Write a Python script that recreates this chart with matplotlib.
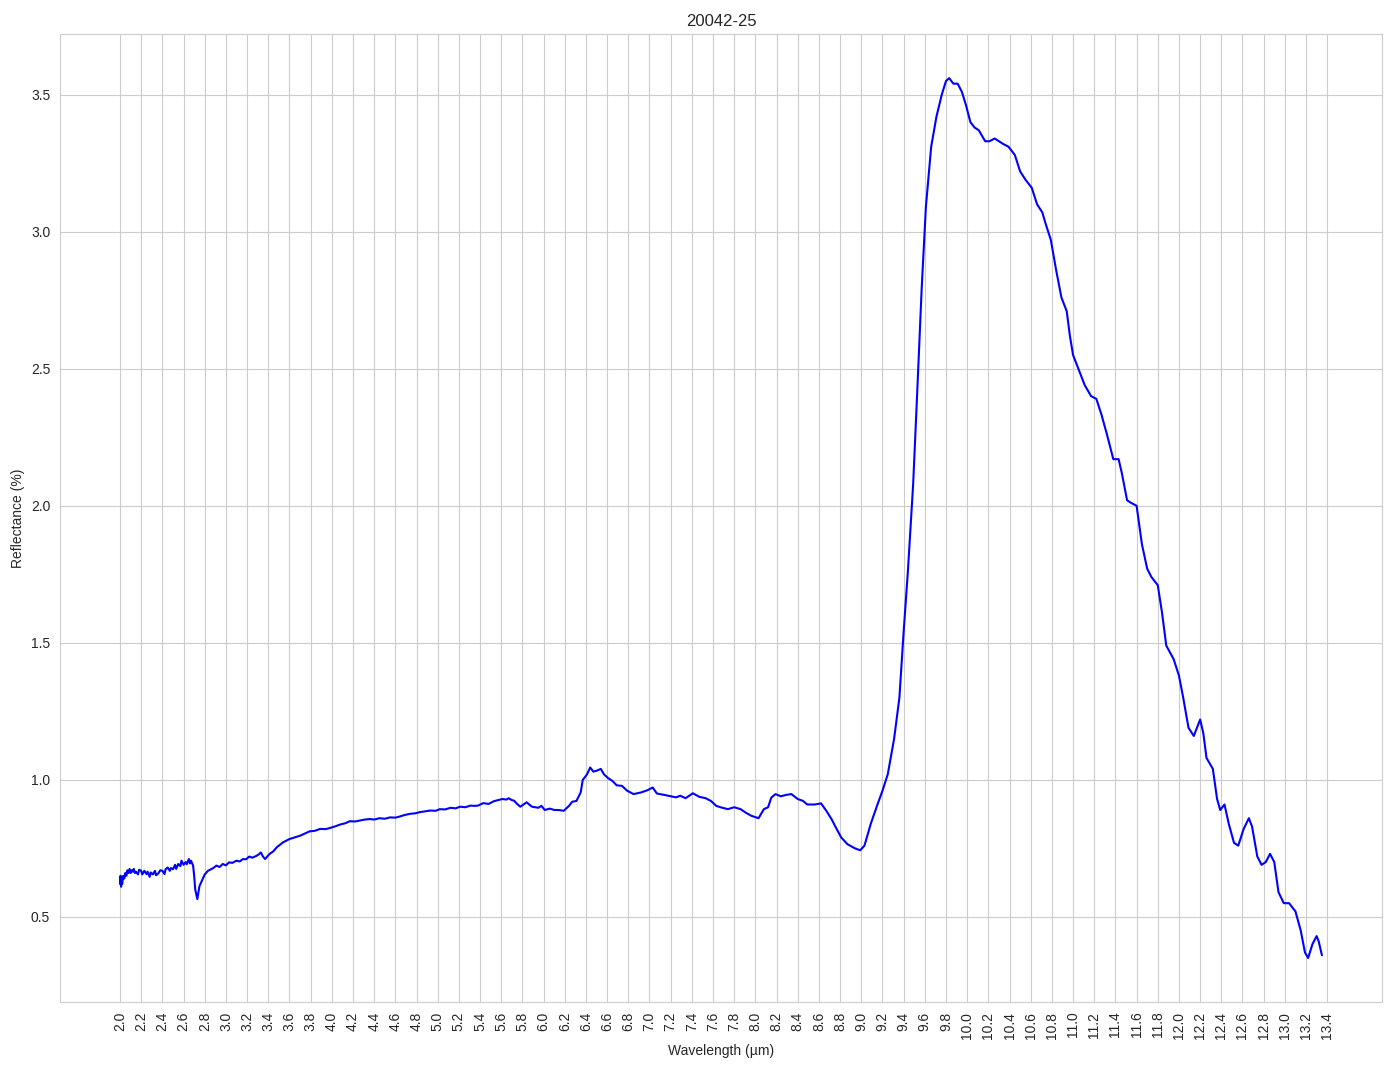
import numpy as np
import matplotlib
matplotlib.use("Agg")
import matplotlib.pyplot as plt
import seaborn as sns

# wavelength (um) and reflectance (%)
wavelength = [
    2.00, 2.005, 2.01, 2.015, 2.02, 2.03, 2.04, 2.05, 2.06, 2.07, 2.08, 2.09, 2.10,
    2.11, 2.12, 2.13, 2.14, 2.15, 2.17, 2.18, 2.20, 2.21, 2.23, 2.25, 2.26, 2.28,
    2.29, 2.31, 2.33, 2.34, 2.36, 2.38, 2.40, 2.42, 2.43, 2.45, 2.47, 2.48, 2.50,
    2.52, 2.53, 2.55, 2.57, 2.58, 2.60, 2.62, 2.63, 2.65, 2.66, 2.67, 2.69, 2.70,
    2.71, 2.73, 2.75, 2.78, 2.80, 2.83, 2.85, 2.88, 2.91, 2.94, 2.97, 3.00, 3.03,
    3.06, 3.10, 3.13, 3.16, 3.19, 3.22, 3.25, 3.29, 3.31, 3.33, 3.35, 3.37, 3.41,
    3.45, 3.48, 3.54, 3.60, 3.65, 3.70, 3.75, 3.79, 3.84, 3.89, 3.94, 3.98, 4.03,
    4.08, 4.13, 4.17, 4.22, 4.26, 4.31, 4.36, 4.40, 4.45, 4.50, 4.55, 4.60, 4.64,
    4.69, 4.74, 4.79, 4.83, 4.88, 4.93, 4.98, 5.02, 5.07, 5.12, 5.17, 5.21, 5.26,
    5.31, 5.35, 5.38, 5.43, 5.48, 5.53, 5.57, 5.61, 5.65, 5.67, 5.70, 5.72, 5.75,
    5.78, 5.81, 5.84, 5.87, 5.89, 5.92, 5.95, 5.98, 6.01, 6.06, 6.10, 6.14, 6.19,
    6.24, 6.27, 6.31, 6.35, 6.37, 6.41, 6.44, 6.47, 6.50, 6.54, 6.57, 6.61, 6.65,
    6.69, 6.74, 6.79, 6.85, 6.92, 6.98, 7.03, 7.07, 7.14, 7.20, 7.25, 7.29, 7.34,
    7.41, 7.47, 7.53, 7.58, 7.63, 7.67, 7.74, 7.80, 7.86, 7.91, 7.96, 8.03, 8.08,
    8.12, 8.15, 8.19, 8.24, 8.29, 8.34, 8.40, 8.45, 8.49, 8.56, 8.62, 8.67, 8.72,
    8.76, 8.81, 8.87, 8.94, 8.99, 9.03, 9.09, 9.15, 9.20, 9.25, 9.31, 9.36, 9.40,
    9.44, 9.49, 9.53, 9.57, 9.61, 9.66, 9.71, 9.76, 9.80, 9.83, 9.87, 9.91, 9.95,
    9.99, 10.03, 10.07, 10.11, 10.17, 10.21, 10.26, 10.34, 10.39, 10.45, 10.50,
    10.55, 10.61, 10.66, 10.71, 10.74, 10.79, 10.84, 10.89, 10.94, 10.97, 11.00,
    11.05, 11.11, 11.17, 11.22, 11.27, 11.32, 11.38, 11.43, 11.46, 11.51, 11.55,
    11.60, 11.65, 11.70, 11.74, 11.80, 11.84, 11.88, 11.95, 12.00, 12.04, 12.09,
    12.14, 12.20, 12.23, 12.26, 12.32, 12.36, 12.39, 12.43, 12.47, 12.52, 12.56,
    12.61, 12.66, 12.69, 12.74, 12.78, 12.82, 12.86, 12.90, 12.94, 12.99, 13.04,
    13.10, 13.15, 13.19, 13.22, 13.26, 13.30, 13.32, 13.35,
]
reflectance = [
    0.62, 0.65, 0.61, 0.64, 0.62, 0.65, 0.64, 0.66, 0.65, 0.67, 0.66, 0.675, 0.66,
    0.67, 0.665, 0.675, 0.66, 0.665, 0.655, 0.672, 0.668, 0.655, 0.668, 0.656, 0.665,
    0.646, 0.662, 0.655, 0.668, 0.652, 0.658, 0.67, 0.668, 0.656, 0.674, 0.68,
    0.668, 0.678, 0.674, 0.69, 0.675, 0.693, 0.685, 0.705, 0.69, 0.7, 0.692, 0.711,
    0.695, 0.705, 0.687, 0.65, 0.6, 0.565, 0.612, 0.638, 0.655, 0.668, 0.672, 0.678,
    0.687, 0.682, 0.693, 0.688, 0.699, 0.697, 0.705, 0.702, 0.711, 0.71, 0.72, 0.716,
    0.723, 0.728, 0.735, 0.72, 0.711, 0.729, 0.74, 0.754, 0.772, 0.784, 0.79, 0.796,
    0.805, 0.812, 0.814, 0.821, 0.82, 0.824, 0.83, 0.837, 0.842, 0.849, 0.848,
    0.851, 0.855, 0.857, 0.855, 0.86, 0.858, 0.863, 0.862, 0.866, 0.872, 0.876,
    0.878, 0.882, 0.885, 0.888, 0.887, 0.893, 0.892, 0.898, 0.896, 0.902, 0.9, 0.906,
    0.905, 0.906, 0.915, 0.912, 0.922, 0.926, 0.93, 0.928, 0.933, 0.926, 0.924,
    0.912, 0.902, 0.91, 0.918, 0.908, 0.902, 0.9, 0.898, 0.905, 0.89, 0.895, 0.89,
    0.89, 0.887, 0.905, 0.92, 0.923, 0.954, 1.0, 1.02, 1.045, 1.03, 1.033, 1.04,
    1.02, 1.006, 0.996, 0.98, 0.978, 0.96, 0.948, 0.954, 0.962, 0.972, 0.95, 0.945,
    0.94, 0.936, 0.942, 0.933, 0.951, 0.938, 0.933, 0.923, 0.905, 0.9, 0.893, 0.9,
    0.893, 0.88, 0.869, 0.86, 0.893, 0.9, 0.935, 0.948, 0.94, 0.945, 0.948, 0.93,
    0.923, 0.91, 0.91, 0.914, 0.887, 0.856, 0.826, 0.79, 0.765, 0.75, 0.743, 0.76,
    0.84, 0.907, 0.96, 1.02, 1.15, 1.30, 1.54, 1.76, 2.08, 2.43, 2.79, 3.09, 3.31,
    3.42, 3.5, 3.55, 3.56, 3.54, 3.54, 3.51, 3.46, 3.40, 3.38, 3.37, 3.33, 3.33,
    3.34, 3.32, 3.31, 3.28, 3.22, 3.19, 3.16, 3.10, 3.07, 3.03, 2.97, 2.86, 2.76,
    2.71, 2.62, 2.55, 2.50, 2.44, 2.40, 2.39, 2.33, 2.26, 2.17, 2.17, 2.12, 2.02,
    2.01, 2.00, 1.86, 1.77, 1.74, 1.71, 1.61, 1.49, 1.44, 1.38, 1.30, 1.19, 1.16,
    1.22, 1.17, 1.08, 1.04, 0.93, 0.89, 0.91, 0.84, 0.77, 0.76, 0.82, 0.86, 0.83,
    0.72, 0.69, 0.70, 0.73, 0.70, 0.59, 0.55, 0.55, 0.52, 0.45, 0.37, 0.35, 0.40,
    0.43, 0.41, 0.36,
]
xticks = np.round(np.arange(2.0, 13.41, 0.2), 1)

sns.set_style("whitegrid")
plt.rcParams['font.family'] = ['Liberation Sans', 'DejaVu Sans']

fig, ax = plt.subplots(figsize=(13.94, 10.69), dpi=100)
fig.subplots_adjust(left=0.043, right=0.9914, top=0.968, bottom=0.0627)

ax.plot(wavelength, reflectance, color='blue', linewidth=1.5)
ax.set_xticks(xticks)
ax.set_xticklabels([f"{t:.1f}" for t in xticks], rotation=90)
ax.set_xlabel("Wavelength (µm)")
ax.set_ylabel("Reflectance (%)")
ax.set_title("20042-25")

fig.savefig("out.png", dpi=100)
